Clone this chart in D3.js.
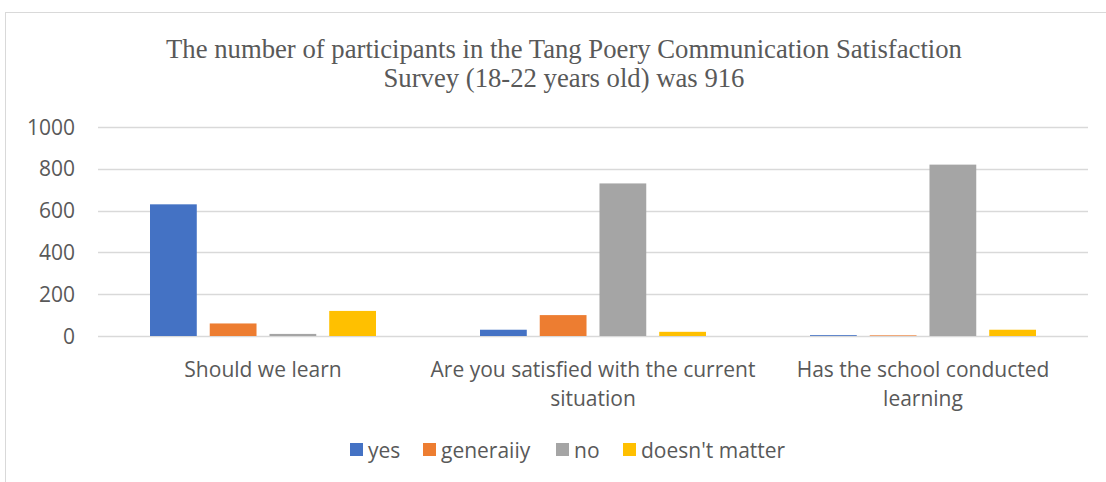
<!DOCTYPE html>
<html>
<head>
<meta charset="utf-8">
<script src="https://cdn.jsdelivr.net/npm/d3@7"></script>
<style>
  body { margin: 0; background: #fff; }
  svg { display: block; }
</style>
</head>
<body>
<svg width="1106" height="482"></svg>
<script>
// chart data
const categories = [
  ['Should we learn'],
  ['Are you satisfied with the current', 'situation'],
  ['Has the school conducted', 'learning']
];
const seriesNames = ['yes', 'generaiiy', 'no', "doesn't matter"];
const yes = [630, 30, 4];
const generally = [60, 100, 3];
const no = [10, 730, 820];
const noMatter = [120, 20, 30];
const yTicks = [0, 200, 400, 600, 800, 1000];
const colors = ['#4472c4', '#ed7d31', '#a5a5a5', '#ffc000'];

const series = [yes, generally, no, noMatter];

const svg = d3.select('svg'),
      margin = {top: 127, right: 18, bottom: 146, left: 98},
      width = +svg.attr('width') - margin.left - margin.right,
      height = +svg.attr('height') - margin.top - margin.bottom;

// chart frame
svg.append('rect')
    .attr('x', 5.5).attr('y', 12.5)
    .attr('width', 1110).attr('height', 480)
    .attr('fill', '#fff')
    .attr('stroke', '#d9d9d9');

// title
svg.append('text')
    .attr('text-anchor', 'middle')
    .attr('font-family', 'Liberation Serif, serif')
    .attr('font-size', '26.7px')
    .attr('fill', '#595959')
    .selectAll('tspan')
    .data(['The number of participants in the Tang Poery Communication Satisfaction',
           'Survey (18-22 years old) was 916'])
    .join('tspan')
      .attr('x', 564)
      .attr('y', (d, i) => 58 + i * 29)
      .text(d => d);

const g = svg.append('g').attr('transform', 'translate(' + margin.left + ',' + margin.top + ')');

const x0 = d3.scaleBand()
    .domain(d3.range(categories.length))
    .range([0, width]);
const x1 = d3.scaleBand()
    .domain(d3.range(seriesNames.length))
    .range([52, x0.bandwidth() - 52])
    .paddingInner(0.217);
const y = d3.scaleLinear()
    .domain([0, 1000])
    .range([height, 0]);

// gridlines
g.append('g')
  .selectAll('line')
  .data(yTicks)
  .join('line')
    .attr('x1', 0).attr('x2', width)
    .attr('y1', d => Math.round(y(d)) + 0.5)
    .attr('y2', d => Math.round(y(d)) + 0.5)
    .attr('stroke', '#d9d9d9')
    .attr('stroke-width', 1.3);

// y axis labels
g.append('g')
  .selectAll('text')
  .data(yTicks)
  .join('text')
    .attr('x', -23)
    .attr('y', d => y(d))
    .attr('dy', '0.36em')
    .attr('text-anchor', 'end')
    .attr('font-family', 'Open Sans, sans-serif')
    .attr('font-size', '21px')
    .attr('fill', '#595959')
    .text(d => d);

// bars
g.append('g')
  .selectAll('g')
  .data(categories.map((c, i) => i))
  .join('g')
    .attr('transform', i => 'translate(' + x0(i) + ',0)')
  .selectAll('rect')
  .data(i => series.map((s, k) => ({k: k, v: s[i]})))
  .join('rect')
    .attr('x', d => x1(d.k))
    .attr('y', d => y(d.v))
    .attr('width', x1.bandwidth())
    .attr('height', d => y(0) - y(d.v))
    .attr('fill', d => colors[d.k]);

// category labels
g.append('g')
  .selectAll('text')
  .data(categories)
  .join('text')
    .attr('text-anchor', 'middle')
    .attr('font-family', 'Open Sans, sans-serif')
    .attr('font-size', '21px')
    .attr('fill', '#595959')
  .selectAll('tspan')
  .data((d, i) => d.map(t => ({t: t, i: i})))
  .join('tspan')
    .attr('x', d => x0(d.i) + x0.bandwidth() / 2)
    .attr('y', (d, j) => height + 41 + j * 29)
    .text(d => d.t);

// legend
const legendX = [350, 423, 556, 623];
const legend = svg.append('g')
  .selectAll('g')
  .data(seriesNames)
  .join('g')
    .attr('transform', (d, i) => 'translate(' + legendX[i] + ',443)');
legend.append('rect')
    .attr('width', 13).attr('height', 13)
    .attr('fill', (d, i) => colors[i]);
legend.append('text')
    .attr('x', 18)
    .attr('y', 7)
    .attr('dy', '0.36em')
    .attr('font-family', 'Open Sans, sans-serif')
    .attr('font-size', '21px')
    .attr('fill', '#595959')
    .text(d => d);
</script>
</body>
</html>
